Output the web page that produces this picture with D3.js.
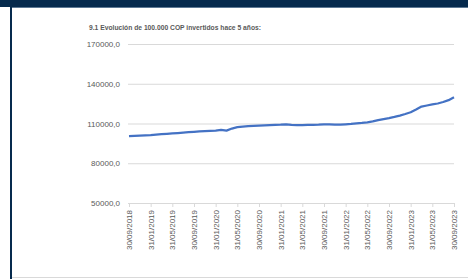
<!DOCTYPE html>
<html>
<head>
<meta charset="utf-8">
<script src="https://cdn.jsdelivr.net/npm/d3@7"></script>
<style>
	body { margin: 0; background: #fff; }
	svg { display: block; font-family: "Liberation Sans", Arial, sans-serif; }
</style>
</head>
<body>
<div id="chart"></div>
<script>
// month-end values, 30/09/2018 .. 30/09/2023
const values = [
	100500, 100700, 100900, 101100, 101300, 101600, 101900, 102200, 102500, 102800,
	103100, 103400, 103700, 104000, 104300, 104500, 104700, 105200, 104600, 106200,
	107200, 107700, 108000, 108200, 108400, 108600, 108800, 109000, 109100, 109300,
	108900, 108700, 108800, 108900, 109000, 109100, 109300, 109300, 109100, 109100,
	109400, 109700, 110100, 110400, 110900, 111600, 112500, 113300, 114100, 115000,
	116000, 117200, 118500, 120500, 122800, 123600, 124400, 125100, 126200, 127600,
	129800
];

const tickLabels = [
	'30/09/2018', '31/01/2019', '31/05/2019', '30/09/2019', '31/01/2020',
	'31/05/2020', '30/09/2020', '31/01/2021', '31/05/2021', '30/09/2021',
	'31/01/2022', '31/05/2022', '30/09/2022', '31/01/2023', '31/05/2023',
	'30/09/2023'
];

const yTicks = [50000, 80000, 110000, 140000, 170000];

const title = '9.1 Evolución de 100.000 COP invertidos hace 5 años:';

const W = 468, H = 279;
const svg = d3.select('#chart').append('svg').attr('width', W).attr('height', H);

// frame
svg.append('rect').attr('x', 0).attr('y', 0).attr('width', W).attr('height', 7).attr('fill', '#062a4d');
svg.append('rect').attr('x', 10).attr('y', 7).attr('width', W - 10).attr('height', 1).attr('fill', '#5d7893');
svg.append('rect').attr('x', 10).attr('y', 7).attr('width', 2).attr('height', H - 7).attr('fill', '#062a4d');
svg.append('rect').attr('x', 12).attr('y', 277).attr('width', W - 12).attr('height', 1).attr('fill', '#d9d9d9');

const x = d3.scaleLinear().domain([0, values.length - 1]).range([129, 454]);
const y = d3.scaleLinear().domain([50000, 170000]).range([203, 44]);

// title
svg.append('text')
	.attr('x', 89).attr('y', 30)
	.attr('textLength', 172).attr('lengthAdjust', 'spacingAndGlyphs')
	.style('font-size', '7.5px').style('font-weight', 'bold').attr('fill', '#595959')
	.text(title);

// y grid + labels
const yAxis = svg.append('g').attr('transform', 'translate(128,0)')
	.call(d3.axisLeft(y).tickValues(yTicks).tickSize(-326).tickPadding(8)
		.tickFormat(d => d3.format('d')(d) + ',0'));
yAxis.select('.domain').remove();
yAxis.selectAll('line').attr('stroke', '#d9d9d9');
yAxis.selectAll('text').attr('fill', '#595959').style('font-size', '8px');

// x axis
const xAxis = svg.append('g').attr('transform', 'translate(0,203)')
	.call(d3.axisBottom(x).tickValues(d3.range(0, values.length, 4)).tickSize(4).tickSizeOuter(0)
		.tickFormat((d, i) => tickLabels[i]));
xAxis.select('.domain').attr('stroke', '#d9d9d9');
xAxis.selectAll('line').attr('stroke', '#d9d9d9');
xAxis.selectAll('text')
	.attr('fill', '#595959').style('font-size', '8px')
	.attr('text-anchor', 'end')
	.attr('transform', 'rotate(-90)')
	.attr('x', -7).attr('y', 0).attr('dy', '0.32em');

// series
const line = d3.line().x((d, i) => x(i)).y(d => y(d));
svg.append('path').datum(values)
	.attr('d', line)
	.attr('fill', 'none')
	.attr('stroke', '#4472c4')
	.attr('stroke-width', 2.25)
	.attr('stroke-linejoin', 'round');
</script>
</body>
</html>
